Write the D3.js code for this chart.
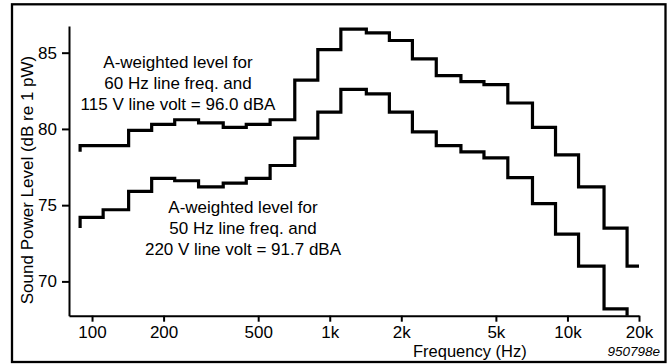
<!DOCTYPE html>
<html>
<head>
<meta charset="utf-8">
<script src="https://d3js.org/d3.v7.min.js"></script>
<style>
  body { margin: 0; background: #fff; }
  svg text { font-family: "Liberation Sans", Arial, Helvetica, sans-serif; }
</style>
</head>
<body>
<div id="chart"></div>
<script>
var width = 672;
var height = 364;

// 1/3 octave band centre frequencies (Hz)
var bandCenters = [100, 125, 160, 200, 250, 315, 400, 500, 630, 800, 1000, 1250,
  1600, 2000, 2500, 3150, 4000, 5000, 6300, 8000, 10000, 12500, 16000, 20000];
// sound power level per band, dB re 1 pW
var level60Hz115V = [78.9, 78.9, 79.9, 80.3, 80.6, 80.4, 80.1, 80.3, 80.6, 83.2, 85.2, 86.55,
  86.3, 85.8, 84.6, 83.5, 83.1, 82.9, 81.7, 80.1, 78.3, 76.2, 73.5, 71.0];
// last band falls below the bottom of the chart
var level50Hz220V = [74.2, 74.7, 75.9, 76.75, 76.6, 76.2, 76.45, 76.75, 77.6, 79.4, 81.1, 82.6,
  82.3, 81.1, 79.8, 78.9, 78.5, 78.1, 76.8, 75.1, 73.1, 71.0, 68.2, null];
// level where each trace begins at the lower edge of the first band
var startLevels = [78.5, 73.5];

var xTicks = [100, 200, 500, 1000, 2000, 5000, 10000, 20000];
var xTickLabels = ['100', '200', '500', '1k', '2k', '5k', '10k', '20k'];
var yTicks = [70, 75, 80, 85];

var notes = [
  ['A-weighted level for', '60 Hz line freq. and', '115 V line volt = 96.0 dBA'],
  ['A-weighted level for', '50 Hz line freq. and', '220 V line volt = 91.7 dBA']
];

var svg = d3.select('#chart')
  .append('svg')
  .attr('width', width)
  .attr('height', height);

// outer frame
svg.append('rect')
  .attr('x', 12)
  .attr('y', 4.3)
  .attr('width', 653.5)
  .attr('height', 357.7)
  .attr('fill', 'none')
  .attr('stroke', '#000')
  .attr('stroke-width', 2.3);

var xScale = d3.scaleLog().domain([80, 20000]).range([69, 639]);
var yScale = d3.scaleLinear().domain([67.75, 86.75]).range([315.7, 26]);

var xAxis = d3.axisBottom(xScale)
  .tickValues(xTicks)
  .tickFormat(function(d, i) { return xTickLabels[i]; })
  .tickSize(6)
  .tickPadding(4)
  .tickSizeOuter(0);
var yAxis = d3.axisLeft(yScale)
  .tickValues(yTicks)
  .tickSize(7)
  .tickPadding(5)
  .tickSizeOuter(0);

var gx = svg.append('g')
  .attr('transform', 'translate(0,' + yScale.range()[0] + ')')
  .call(xAxis);
var gy = svg.append('g')
  .attr('transform', 'translate(' + xScale.range()[0] + ',0)')
  .call(yAxis);

[gx, gy].forEach(function(g) {
  g.select('.domain').attr('stroke-width', 2);
  g.selectAll('.tick line').attr('stroke-width', 2);
  g.selectAll('.tick text')
    .attr('fill', '#000')
    .style('font-size', '17px')
    .style('font-family', '"Liberation Sans", Arial, sans-serif');
});

// band edges sit a sixth of an octave either side of each centre
function lowEdge(f) { return f / Math.pow(2, 1 / 6); }
function highEdge(f) { return f * Math.pow(2, 1 / 6); }

function stepPoints(levels, start) {
  var pts = [[lowEdge(bandCenters[0]), start]];
  for (var i = 0; i < levels.length; i++) {
    if (levels[i] === null) {
      // drops off the bottom of the plot
      pts.push([lowEdge(bandCenters[i]), yScale.domain()[0]]);
      return pts;
    }
    pts.push([lowEdge(bandCenters[i]), levels[i]]);
  }
  var last = levels[levels.length - 1];
  pts.push([Math.min(highEdge(bandCenters[levels.length - 1]), xScale.domain()[1]), last]);
  return pts;
}

var line = d3.line()
  .x(function(d) { return xScale(d[0]); })
  .y(function(d) { return yScale(d[1]); })
  .curve(d3.curveStepAfter);

svg.selectAll('path.trace')
  .data([stepPoints(level60Hz115V, startLevels[0]), stepPoints(level50Hz220V, startLevels[1])])
  .enter()
  .append('path')
  .attr('class', 'trace')
  .attr('d', line)
  .attr('fill', 'none')
  .attr('stroke', '#000')
  .attr('stroke-width', 3.2)
  .attr('stroke-linejoin', 'miter')
  .attr('stroke-linecap', 'butt');

// annotations
var notePos = [[178, 68], [243, 212.5]];
notes.forEach(function(lines, k) {
  var t = svg.append('text')
    .attr('text-anchor', 'middle')
    .style('font-size', '17px');
  lines.forEach(function(s, j) {
    t.append('tspan')
      .attr('x', notePos[k][0])
      .attr('y', notePos[k][1] + j * 21)
      .text(s);
  });
});

// axis titles
svg.append('text')
  .text('Frequency (Hz)')
  .attr('x', 413)
  .attr('y', 356.5)
  .style('font-size', '16.5px');
svg.append('text')
  .text('Sound Power Level (dB re 1 pW)')
  .attr('text-anchor', 'middle')
  .attr('transform', 'translate(33,180)rotate(-90)')
  .style('font-size', '17px');
svg.append('text')
  .text('950798e')
  .attr('text-anchor', 'end')
  .attr('x', 660)
  .attr('y', 356)
  .style('font-size', '13.5px')
  .style('font-style', 'italic');
</script>
</body>
</html>
